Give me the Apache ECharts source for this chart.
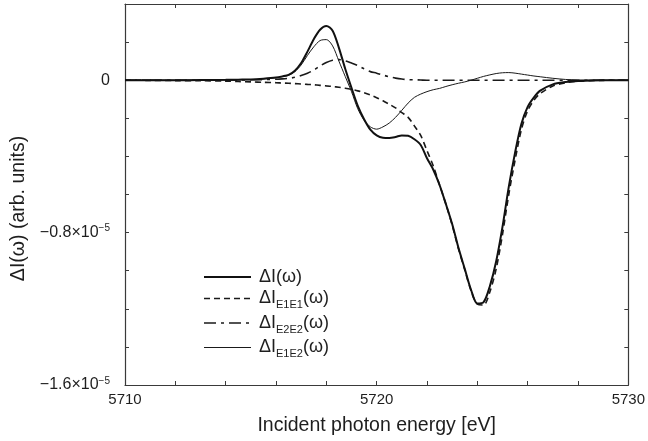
<!DOCTYPE html>
<html>
<head>
<meta charset="utf-8">
<script src="https://cdn.jsdelivr.net/npm/echarts@6/dist/echarts.min.js"></script>
<style>html,body{margin:0;padding:0;background:#fff}#c{width:648px;height:441px}</style>
</head>
<body>
<div id="c"></div>
<script>
// Incident photon energy [eV]
const energy = [5710, 5711, 5712, 5713, 5714, 5714.5, 5715, 5715.5, 5716, 5716.25, 5716.5, 5716.75,
  5717, 5717.25, 5717.5, 5717.75, 5718, 5718.25, 5718.5, 5718.75, 5719, 5719.25, 5719.5, 5719.75,
  5720, 5720.25, 5720.5, 5720.75, 5721, 5721.25, 5721.5, 5721.75, 5722, 5722.25, 5722.5, 5722.75,
  5723, 5723.25, 5723.5, 5723.75, 5724, 5724.25, 5724.5, 5724.75, 5725, 5725.25, 5725.5, 5725.75,
  5726, 5726.25, 5726.5, 5727, 5727.5, 5728, 5729, 5730];
// values in units of 1e-5
const dI_total = [0, 0, 0, 0.001, 0.002, 0.003, 0.004, 0.008, 0.014, 0.02, 0.028, 0.05,
  0.09, 0.15, 0.215, 0.265, 0.285, 0.26, 0.17, 0.06, -0.04, -0.135, -0.205, -0.26,
  -0.29, -0.302, -0.303, -0.298, -0.29, -0.292, -0.31, -0.34, -0.41, -0.47, -0.55, -0.65,
  -0.755, -0.88, -0.99, -1.10, -1.172, -1.165, -1.08, -0.95, -0.77, -0.56, -0.38, -0.23,
  -0.14, -0.09, -0.055, -0.022, -0.01, -0.004, 0, 0];
const dI_E1E1 = [0, -0.001, -0.002, -0.003, -0.005, -0.007, -0.009, -0.011, -0.013, -0.015, -0.016, -0.018,
  -0.02, -0.022, -0.024, -0.027, -0.03, -0.033, -0.037, -0.042, -0.048, -0.056, -0.066, -0.078,
  -0.092, -0.108, -0.126, -0.145, -0.17, -0.195, -0.24, -0.29, -0.37, -0.45, -0.55, -0.65,
  -0.76, -0.885, -0.995, -1.105, -1.175, -1.18, -1.11, -0.99, -0.81, -0.60, -0.42, -0.26,
  -0.16, -0.105, -0.07, -0.03, -0.014, -0.005, -0.001, 0];
const dI_E2E2 = [0, 0, 0, 0, 0.001, 0.001, 0.002, 0.003, 0.005, 0.007, 0.01, 0.015,
  0.025, 0.037, 0.053, 0.075, 0.093, 0.105, 0.108, 0.102, 0.09, 0.077, 0.06, 0.045,
  0.037, 0.027, 0.018, 0.011, 0.006, 0.003, 0.002, 0.001, 0, 0, 0, 0,
  0, 0, 0, 0, 0, 0, 0, 0, 0, 0, 0, 0,
  0, 0, 0, 0, 0, 0, 0, 0];
const dI_E1E2 = [0, 0, 0, 0.001, 0.001, 0.002, 0.003, 0.007, 0.013, 0.018, 0.026, 0.045,
  0.08, 0.13, 0.175, 0.208, 0.213, 0.18, 0.10, 0.02, -0.06, -0.15, -0.21, -0.245,
  -0.257, -0.245, -0.225, -0.195, -0.158, -0.12, -0.09, -0.073, -0.06, -0.05, -0.043, -0.033,
  -0.024, -0.016, -0.009, 0, 0.01, 0.02, 0.028, 0.035, 0.039, 0.04, 0.037, 0.032,
  0.027, 0.022, 0.018, 0.01, 0.004, 0.001, 0, 0];

const seriesNames = ['ΔI(ω)', 'ΔI_E1E1(ω)', 'ΔI_E2E2(ω)', 'ΔI_E1E2(ω)'];
const xTickLabels = [5710, 5720, 5730];
const yTickLabels = [0, -0.8, -1.6];

const FONT = 'Liberation Sans, Arial, sans-serif';
const AX = '#3a3a3a';
const TXT = '#1e1e1e';
const pair = arr => energy.map((e, i) => [e, arr[i]]);

function yLab(v) {
  for (const t of yTickLabels) {
    if (Math.abs(v - t) < 1e-6) {
      if (t === 0) return '{a|0}';
      return '{a|−' + Math.abs(t).toFixed(1) + '×10}{s|−5}';
    }
  }
  return '';
}
function xLab(v) {
  for (const t of xTickLabels) if (Math.abs(v - t) < 1e-6) return String(t);
  return '';
}
function legLab(name) {
  const m = name.match(/^ΔI_(\w+)\(ω\)$/);
  if (m) return '{a|ΔI}{s|' + m[1] + '}{a|(ω)}';
  return '{a|' + name + '}';
}

const chart = echarts.init(document.getElementById('c'), null, {renderer: 'canvas'});
const axBase = {
  type: 'value',
  axisLine: {show: true, onZero: false, lineStyle: {color: AX, width: 1.2}},
  axisTick: {show: true, inside: true, length: 4, lineStyle: {color: AX, width: 1}},
  splitLine: {show: false}
};
const hidden = {opacity: 0};
chart.setOption({
  animation: false,
  backgroundColor: '#fff',
  grid: {left: 125, right: 18, top: 4, bottom: 49, containLabel: false},
  xAxis: [
    Object.assign({}, axBase, {
      min: 5710, max: 5730, interval: 2, position: 'bottom',
      name: 'Incident photon energy [eV]', nameLocation: 'middle', nameGap: 31,
      nameTextStyle: {fontFamily: FONT, fontSize: 19.5, color: TXT},
      axisLabel: {formatter: xLab, margin: 7, fontFamily: FONT, fontSize: 15, color: TXT}
    }),
    Object.assign({}, axBase, {
      min: 5710, max: 5730, interval: 2, position: 'top',
      axisLabel: {show: false}
    })
  ],
  yAxis: [
    Object.assign({}, axBase, {
      min: -1.6, max: 0.4, interval: 0.2, position: 'left',
      name: 'ΔI(ω) (arb. units)', nameLocation: 'middle', nameGap: 95,
      nameTextStyle: {fontFamily: FONT, fontSize: 19.5, color: TXT, padding: [0, 28, 0, 0]},
      axisLabel: {
        formatter: yLab, margin: 15, fontFamily: FONT, color: TXT,
        rich: {
          a: {fontFamily: FONT, fontSize: 16, color: TXT, lineHeight: 18},
          s: {fontFamily: FONT, fontSize: 10, color: TXT, verticalAlign: 'top', lineHeight: 18, padding: [0, 0, 8, 0]}
        }
      }
    }),
    Object.assign({}, axBase, {
      min: -1.6, max: 0.4, interval: 0.2, position: 'right',
      axisLabel: {show: false}
    })
  ],
  legend: {
    orient: 'vertical', left: 203, top: 268, padding: 0,
    itemWidth: 47, itemHeight: 14, itemGap: 0.5,
    formatter: legLab,
    itemStyle: hidden,
    textStyle: {
      fontFamily: FONT, fontSize: 18, color: TXT, padding: [0, 0, 0, 3],
      rich: {
        a: {fontFamily: FONT, fontSize: 18, color: TXT, lineHeight: 23},
        s: {fontFamily: FONT, fontSize: 11, color: TXT, lineHeight: 11, padding: [13, 0, 0, 0]}
      }
    },
    data: [
      {name: seriesNames[0], itemStyle: hidden, lineStyle: {width: 2, type: 'solid', color: '#111'}},
      {name: seriesNames[1], itemStyle: hidden, lineStyle: {width: 1.6, type: [6, 4], color: '#1a1a1a'}},
      {name: seriesNames[2], itemStyle: hidden, lineStyle: {width: 1.6, type: [12, 5, 3, 5], color: '#1a1a1a'}},
      {name: seriesNames[3], itemStyle: hidden, lineStyle: {width: 1, type: 'solid', color: '#1a1a1a'}}
    ]
  },
  series: [
    {name: seriesNames[3], type: 'line', data: pair(dI_E1E2), smooth: 0.3, symbol: 'none',
      itemStyle: {color: '#1a1a1a'}, lineStyle: {color: '#1a1a1a', width: 1}, z: 2},
    {name: seriesNames[2], type: 'line', data: pair(dI_E2E2), smooth: 0.3, symbol: 'none',
      itemStyle: {color: '#1a1a1a'}, lineStyle: {color: '#1a1a1a', width: 1.6, type: [12, 5, 3, 5]}, z: 3},
    {name: seriesNames[1], type: 'line', data: pair(dI_E1E1), smooth: 0.3, symbol: 'none',
      itemStyle: {color: '#1a1a1a'}, lineStyle: {color: '#1a1a1a', width: 1.6, type: [6, 4]}, z: 4},
    {name: seriesNames[0], type: 'line', data: pair(dI_total), smooth: 0.3, symbol: 'none',
      itemStyle: {color: '#111'}, lineStyle: {color: '#111', width: 2}, z: 5}
  ]
});
</script>
</body>
</html>
